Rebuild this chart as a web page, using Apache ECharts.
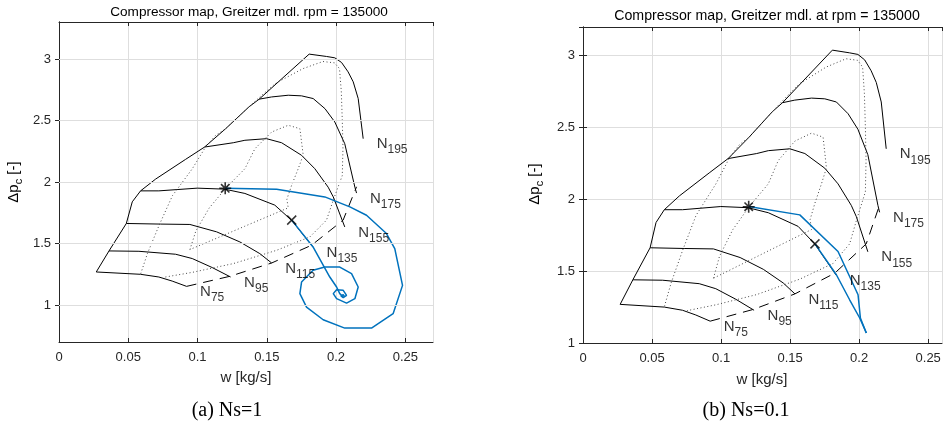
<!DOCTYPE html>
<html>
<head>
<meta charset="utf-8">
<script src="https://cdn.jsdelivr.net/npm/echarts@6/dist/echarts.min.js"></script>
<style>
  html, body { margin: 0; padding: 0; background: #fff; }
  #chart { width: 944px; height: 424px; }
</style>
</head>
<body>
<div id="chart"></div>
<script>
// ticks
const xTicks = [0, 0.05, 0.1, 0.15, 0.2, 0.25];
const yTicks = [1, 1.5, 2, 2.5, 3];

// speed lines (w, dp)
const speedNames = ['75', '95', '115', '135', '155', '175', '195'];
const n75 = [[0.0269, 1.269], [0.0589, 1.25], [0.0721, 1.228], [0.0817, 1.195], [0.0921, 1.152]];
const n95 = [[0.0361, 1.44], [0.0577, 1.437], [0.0842, 1.413], [0.0962, 1.378], [0.1106, 1.305], [0.1239, 1.228]];
const n115 = [[0.0486, 1.663], [0.0733, 1.658], [0.0945, 1.655], [0.1138, 1.595], [0.1306, 1.513], [0.145, 1.418], [0.1535, 1.342]];
const n135 = [[0.0589, 1.928], [0.0721, 1.928], [0.0998, 1.95], [0.1195, 1.942], [0.1342, 1.907], [0.1558, 1.812], [0.1678, 1.69], [0.1834, 1.472]];
const n155 = [[0.1051, 2.284], [0.1258, 2.319], [0.1342, 2.339], [0.1498, 2.352], [0.1607, 2.319], [0.1751, 2.217], [0.1847, 2.108], [0.1943, 1.958], [0.198, 1.879], [0.2063, 1.635]];
const n175 = [[0.1445, 2.673], [0.1534, 2.691], [0.1655, 2.705], [0.1751, 2.70], [0.1835, 2.678], [0.192, 2.596], [0.1991, 2.488], [0.2063, 2.311], [0.2136, 1.958], [0.2148, 1.91]];
const n195 = [[0.1806, 3.039], [0.1931, 3.02], [0.1991, 3.009], [0.204, 2.971], [0.2087, 2.895], [0.2124, 2.814], [0.216, 2.678], [0.2196, 2.352]];
const speedLines = [n75, n95, n115, n135, n155, n175, n195];

const surge = [[0.0269, 1.269], [0.0361, 1.44], [0.0486, 1.663], [0.0529, 1.839], [0.0589, 1.928], [0.0698, 2.024],
  [0.0914, 2.184], [0.1051, 2.284], [0.1203, 2.433], [0.1371, 2.61], [0.1445, 2.673], [0.1806, 3.039]];
const choke = [[0.0921, 1.152], [0.1234, 1.234], [0.1535, 1.342], [0.1823, 1.486], [0.2051, 1.69], [0.2148, 1.961]];

// efficiency contours
const effOuter = [[0.059, 1.255], [0.0638, 1.418], [0.0723, 1.649], [0.0819, 1.889], [0.0962, 2.107], [0.1058, 2.284],
  [0.1131, 2.379], [0.1203, 2.433], [0.1371, 2.61], [0.1472, 2.713], [0.1568, 2.805], [0.1761, 2.921], [0.1905, 2.979],
  [0.1989, 2.968], [0.2025, 2.921], [0.2038, 2.736], [0.2045, 2.504], [0.205, 2.273], [0.2045, 2.052], [0.198, 1.853],
  [0.1931, 1.69], [0.1811, 1.554], [0.1571, 1.445], [0.1258, 1.337], [0.0963, 1.266], [0.0753, 1.225]];
const effMid = [[0.0945, 1.451], [0.0988, 1.602], [0.1084, 1.788], [0.1204, 1.95], [0.1342, 2.108], [0.1414, 2.27],
  [0.1535, 2.406], [0.1655, 2.461], [0.1739, 2.433], [0.1763, 2.219], [0.1727, 2.108], [0.1679, 1.972], [0.1645, 1.86],
  [0.1655, 1.79], [0.134, 1.64], [0.0945, 1.451]];

// operating points
const opStar = [0.12, 1.949];
const opCross = [0.168, 1.69];

// (a) Ns=1 trajectories
const trajA1 = [[0.12, 1.949], [0.1571, 1.942], [0.1919, 1.879], [0.21, 1.798], [0.222, 1.73], [0.2364, 1.581],
  [0.2424, 1.459], [0.248, 1.16], [0.2412, 0.93], [0.2256, 0.813], [0.2063, 0.813], [0.1907, 0.881], [0.1787, 0.984],
  [0.1739, 1.093], [0.1751, 1.187], [0.1834, 1.283], [0.1919, 1.309], [0.2027, 1.309], [0.2112, 1.256], [0.216, 1.147],
  [0.2136, 1.052], [0.2076, 1.016], [0.2004, 1.052], [0.198, 1.093], [0.2004, 1.125], [0.2052, 1.12], [0.2076, 1.079],
  [0.2052, 1.06], [0.2035, 1.075], [0.2052, 1.085], [0.206, 1.07]];
const trajA2 = [[0.168, 1.69], [0.1834, 1.472], [0.1955, 1.228], [0.2004, 1.147], [0.2027, 1.093], [0.2052, 1.065]];
// (b) Ns=0.1 trajectories
const trajB1 = [[0.12, 1.95], [0.157, 1.892], [0.1847, 1.637], [0.1992, 1.336], [0.2009, 1.174], [0.2052, 1.07]];
const trajB2 = [[0.168, 1.69], [0.1835, 1.475], [0.1931, 1.301], [0.2004, 1.174], [0.2052, 1.07]];

const FONT = '"Liberation Sans", Arial, sans-serif';
const SERIF = '"Liberation Serif", "Times New Roman", serif';
const AX = '#262626';
const GRID = '#dedede';
const BLUE = '#0072BD';

const chart = echarts.init(document.getElementById('chart'), null, { renderer: 'canvas' });

const line = (data, i, style, extra) => Object.assign({
  type: 'line', xAxisIndex: i, yAxisIndex: i, data: data, symbol: 'none',
  silent: true, animation: false, z: 3,
  lineStyle: Object.assign({ color: '#000', width: 1 }, style)
}, extra || {});

// subscript done with top padding on the small token
const richN = {
  n: { fontSize: 15, fontFamily: FONT, color: '#000' },
  s: { fontSize: 12, fontFamily: FONT, color: '#000', padding: [12, 0, 0, 0] }
};

function mapSeries(i, traj1, traj2) {
  const s = [];
  speedLines.forEach(d => s.push(line(d, i)));
  s.push(line(surge, i));
  s.push(line(choke, i, { type: [10, 7] }));
  [effOuter, effMid].forEach(d => s.push(line(d, i, { type: [1, 2.5], color: '#444' })));
  s.push(line(traj1, i, { color: BLUE, width: 1.5 }, { z: 4 }));
  s.push(line(traj2, i, { color: BLUE, width: 1.5 }, { z: 4 }));
  s.push({
    type: 'scatter', xAxisIndex: i, yAxisIndex: i, silent: true, animation: false, z: 5,
    symbol: 'path://M0,-10L0,10M-10,0L10,0M-7,-7L7,7M-7,7L7,-7', symbolSize: 12,
    itemStyle: { color: 'none', borderColor: '#000', borderWidth: 1.6 },
    data: [opStar]
  });
  s.push({
    type: 'scatter', xAxisIndex: i, yAxisIndex: i, silent: true, animation: false, z: 5,
    symbol: 'path://M-5,-5L5,5M-5,5L5,-5', symbolSize: 9,
    itemStyle: { color: 'none', borderColor: '#000', borderWidth: 1.5 },
    data: [opCross]
  });
  s.push({
    type: 'scatter', xAxisIndex: i, yAxisIndex: i, silent: true, animation: false, z: 5,
    symbolSize: 1, itemStyle: { color: 'rgba(0,0,0,0)' },
    data: speedLines.map((d, k) => ({ value: d[d.length - 1], name: speedNames[k] })),
    label: {
      show: true, position: [14, -6],
      formatter: p => '{n|N}{s|' + p.name + '}',
      rich: richN
    }
  });
  return s;
}

// grid lines for the left y axis (axis range does not start on a tick)
const gridLinesA = {
  type: 'line', xAxisIndex: 0, yAxisIndex: 0, data: [], silent: true, animation: false, z: 1,
  markLine: {
    silent: true, symbol: 'none', animation: false, label: { show: false },
    lineStyle: { color: GRID, type: 'solid', width: 1 },
    data: yTicks.map(v => ({ yAxis: v }))
  }
};

const tickLabel = { color: AX, fontSize: 13, fontFamily: FONT };

function xAxes(gridIndex, max) {
  return [{
    type: 'value', gridIndex: gridIndex, min: 0, max: max, interval: 0.05, position: 'bottom',
    axisLine: { lineStyle: { color: AX } },
    axisTick: { inside: true, length: 4, lineStyle: { color: AX } },
    axisLabel: Object.assign({ margin: 9, showMaxLabel: false, formatter: v => String(+v.toFixed(2)) }, tickLabel),
    splitLine: { show: true, lineStyle: { color: GRID } }
  }, {
    type: 'value', gridIndex: gridIndex, min: 0, max: max, interval: 0.05, position: 'top',
    axisLine: { lineStyle: { color: AX } },
    axisTick: { inside: true, length: 4, lineStyle: { color: AX } },
    axisLabel: { show: false }, splitLine: { show: false }
  }];
}

const yAxisA = {
  type: 'value', gridIndex: 0, min: 0.7, max: 3.3, position: 'left',
  axisLine: { show: true, lineStyle: { color: AX } },
  axisTick: { show: true, inside: true, length: 4, customValues: yTicks, lineStyle: { color: AX } },
  axisLabel: Object.assign({ margin: 8, customValues: yTicks, formatter: v => String(v) }, tickLabel),
  splitLine: { show: false }
};
const yAxisA2 = {
  type: 'value', gridIndex: 0, min: 0.7, max: 3.3, position: 'right',
  axisLine: { show: true, lineStyle: { color: AX } },
  axisTick: { show: true, inside: true, length: 4, customValues: yTicks, lineStyle: { color: AX } },
  axisLabel: { show: false }, splitLine: { show: false }
};
const yAxisB = {
  type: 'value', gridIndex: 1, min: 1, max: 3.2, interval: 0.5, position: 'left',
  axisLine: { show: true, lineStyle: { color: AX } },
  axisTick: { show: true, inside: true, length: 4, lineStyle: { color: AX } },
  axisLabel: Object.assign({ margin: 8, showMaxLabel: false, formatter: v => String(v) }, tickLabel),
  splitLine: { show: true, lineStyle: { color: GRID } }
};
const yAxisB2 = {
  type: 'value', gridIndex: 1, min: 1, max: 3.2, interval: 0.5, position: 'right',
  axisLine: { show: true, lineStyle: { color: AX } },
  axisTick: { show: true, inside: true, length: 4, lineStyle: { color: AX } },
  axisLabel: { show: false }, splitLine: { show: false }
};

const xa = xAxes(0, 0.27), xb = xAxes(1, 0.26);

const richY = {
  a: { fontSize: 15, fontFamily: FONT, color: AX },
  s: { fontSize: 11, fontFamily: FONT, color: AX, padding: [10, 0, 0, 0] }
};

chart.setOption({
  animation: false,
  grid: [
    { left: 59, top: 22, width: 374, height: 320, containLabel: false },
    { left: 583, top: 27, width: 359, height: 316, containLabel: false }
  ],
  // axis index order: 0 left-bottom, 1 left-top, 2 right-bottom, 3 right-top
  xAxis: [xa[0], xa[1], xb[0], xb[1]],
  yAxis: [yAxisA, yAxisA2, yAxisB, yAxisB2],
  series: [gridLinesA].concat(mapSeries(0, trajA1, trajA2), mapSeries(2, trajB1, trajB2)),
  graphic: [
    { type: 'text', x: 249, y: 12, silent: true, style: { text: 'Compressor map, Greitzer mdl. rpm = 135000', font: '13.6px ' + FONT, fill: '#000', align: 'center', verticalAlign: 'middle' } },
    { type: 'text', x: 767, y: 16, silent: true, style: { text: 'Compressor map, Greitzer mdl. at rpm = 135000', font: '14.2px ' + FONT, fill: '#000', align: 'center', verticalAlign: 'middle' } },
    { type: 'text', x: 246, y: 378, silent: true, style: { text: 'w [kg/s]', font: '15px ' + FONT, fill: AX, align: 'center', verticalAlign: 'middle' } },
    { type: 'text', x: 762, y: 380, silent: true, style: { text: 'w [kg/s]', font: '15px ' + FONT, fill: AX, align: 'center', verticalAlign: 'middle' } },
    { type: 'text', x: 14, y: 182, rotation: Math.PI / 2, silent: true, style: { text: '{a|Δp}{s|c}{a| [-]}', rich: richY, align: 'center', verticalAlign: 'middle' } },
    { type: 'text', x: 535, y: 184, rotation: Math.PI / 2, silent: true, style: { text: '{a|Δp}{s|c}{a| [-]}', rich: richY, align: 'center', verticalAlign: 'middle' } },
    { type: 'text', x: 227, y: 411, silent: true, style: { text: '(a) Ns=1', font: '20px ' + SERIF, fill: '#000', align: 'center', verticalAlign: 'middle' } },
    { type: 'text', x: 746, y: 411, silent: true, style: { text: '(b) Ns=0.1', font: '20px ' + SERIF, fill: '#000', align: 'center', verticalAlign: 'middle' } }
  ]
});
</script>
</body>
</html>
